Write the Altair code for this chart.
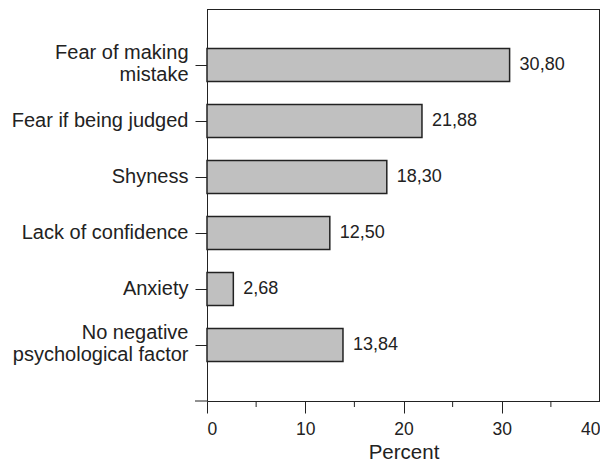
import altair as alt
import pandas as pd

categories = ["Fear of making|mistake", "Fear if being judged", "Shyness",
              "Lack of confidence", "Anxiety", "No negative|psychological factor"]
values = [30.80, 21.88, 18.30, 12.50, 2.68, 13.84]
value_labels = ["30,80", "21,88", "18,30", "12,50", "2,68", "13,84"]
x_ticks = [0, 10, 20, 30, 40]
minor_ticks = [5, 15, 25, 35]

df = pd.DataFrame({"cat": categories, "val": values, "lab": value_labels})
minor_df = pd.DataFrame({"m": minor_ticks})

W, H = 393, 392
FONT = "Liberation Sans"
INK = "#222222"

x_scale = alt.Scale(domain=[0, 40], nice=False)
y_scale = alt.Scale(domain=categories, paddingInner=0.41, paddingOuter=0.705)

bars = alt.Chart(df).mark_bar(fill="#c0c0c0", stroke=INK, strokeWidth=1.5).encode(
    x=alt.X("val:Q", scale=x_scale,
            axis=alt.Axis(values=x_ticks, title="Percent", tickSize=12, labelPadding=7,
                          labelFontSize=17.5, titleFontSize=20.5, titlePadding=5,
                          titleFontWeight="normal", grid=False, domainColor=INK,
                          tickColor=INK, labelColor=INK, titleColor=INK,
                          labelFont=FONT, titleFont=FONT)),
    y=alt.Y("cat:N", scale=y_scale, sort=categories,
            axis=alt.Axis(title=None, tickSize=12, labelPadding=7, labelFontSize=20,
                          labelLineHeight=22, labelExpr="split(datum.label, '|')",
                          labelOffset={"condition": {"test": "indexof(datum.label, '|') >= 0",
                                                     "value": -12}, "value": 0},
                          domainColor=INK, tickColor=INK, labelColor=INK,
                          labelFont=FONT, labelLimit=300)),
)

text = alt.Chart(df).mark_text(align="left", baseline="middle", dx=10, fontSize=18,
                               font=FONT, color=INK).encode(
    x=alt.X("val:Q", scale=x_scale),
    y=alt.Y("cat:N", scale=y_scale, sort=categories),
    text="lab:N",
)

minor = alt.Chart(minor_df).mark_rule(color=INK, strokeWidth=1).encode(
    x=alt.X("m:Q", scale=x_scale),
    y=alt.value(H),
    y2=alt.value(H + 6),
)

one = pd.DataFrame({"a": [0]})
corner = alt.Chart(one).mark_rule(color=INK, strokeWidth=1).encode(
    x=alt.value(-12), x2=alt.value(0), y=alt.value(H),
)
top_line = alt.Chart(one).mark_rule(color=INK, strokeWidth=1).encode(
    x=alt.value(0), x2=alt.value(W), y=alt.value(0.5),
)
right_line = alt.Chart(one).mark_rule(color=INK, strokeWidth=1).encode(
    x=alt.value(W - 0.5), y=alt.value(0), y2=alt.value(H),
)

chart = alt.layer(bars, text, minor, corner, top_line, right_line).properties(
    width=W, height=H,
    autosize=alt.AutoSizeParams(type="none"),
    padding={"left": 199, "top": 1, "right": 0, "bottom": 61},
).configure(background="white").configure_view(stroke=None)

chart.save("out.html", embed_options={"renderer": "svg", "actions": False})
